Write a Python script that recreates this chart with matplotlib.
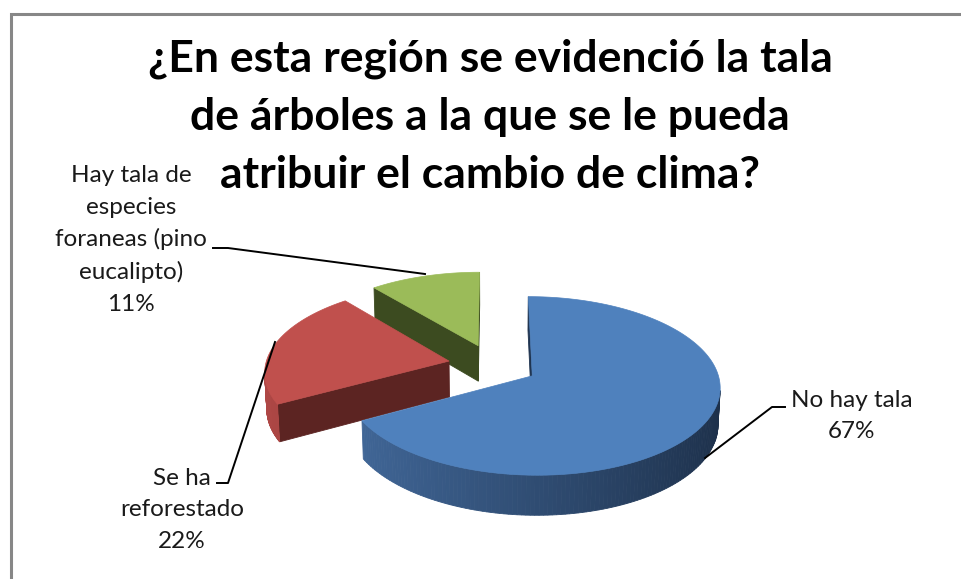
import numpy as np
import matplotlib.pyplot as plt
from matplotlib.patches import Polygon

# data
labels = ['No hay tala', 'Se ha\nreforestado', 'Hay tala de\nespecies\nforaneas (pino\neucalipto)']
values = [67, 22, 11]
title = '¿En esta región se evidenció la tala\nde árboles a la que se le pueda\natribuir el cambio de clima?'

top_colors = ['#4F81BD', '#C0504D', '#9BBB59']
cut_colors = ['#1F3450', '#5C2422', '#3C4B20']
wall_light = ['#42699B', '#B04846', '#7E9A48']
wall_dark = ['#1D304A', '#5A2321', '#3C4B20']

plt.rcParams['font.family'] = ['Lato', 'DejaVu Sans']

# 3d pie geometry (pixel space)
cx, cy = 493, 365
Rx, Rv = 193, 221
elev = 0.42
se, ce = np.sin(elev), np.cos(elev)
D = 7.8
d0 = -0.4
H = 0.19
explode = 0.245


def proj(u, v, w):
    depth = v * ce - w * se
    f = D / (D + depth - d0)
    return cx + Rx * u * f, cy - Rv * (v * se + w * ce) * f


def depth_of(u, v, w):
    return v * ce - w * se


cam = (D - d0) * np.array([0.0, -ce, se])


def visible(normal, p):
    return np.dot(normal, cam - np.array(p)) > 0


def mix(c1, c2, t):
    a = np.array(plt.matplotlib.colors.to_rgb(c1))
    b = np.array(plt.matplotlib.colors.to_rgb(c2))
    return tuple(a + (b - a) * t)


fig = plt.figure(figsize=(9.62, 5.79), dpi=100)
ax = fig.add_axes([0, 0, 1, 1])
ax.set_xlim(0, 962)
ax.set_ylim(579, 0)
ax.axis('off')

fracs = np.array(values) / sum(values)
starts = np.concatenate([[0], np.cumsum(fracs)[:-1]]) * 360
ends = np.cumsum(fracs) * 360

slices = []
for i in range(len(values)):
    a1, a2 = starts[i], ends[i]
    mid = np.deg2rad((a1 + a2) / 2)
    ou, ov = explode * np.sin(mid), explode * np.cos(mid)
    slices.append((i, a1, a2, ou, ov, depth_of(ou, ov, 0)))

# back to front
slices.sort(key=lambda s: -s[5])

for i, a1, a2, ou, ov, _ in slices:
    angs = np.deg2rad(np.linspace(a1, a2, 200))
    faces = []
    # outer wall
    for k in range(len(angs) - 1):
        t0, t1 = angs[k], angs[k + 1]
        tm = (t0 + t1) / 2
        n = np.array([np.sin(tm), np.cos(tm), 0])
        p = [ou + np.sin(tm), ov + np.cos(tm), -H / 2]
        if not visible(n, p):
            continue
        pts = [proj(ou + np.sin(t0), ov + np.cos(t0), 0),
               proj(ou + np.sin(t1), ov + np.cos(t1), 0),
               proj(ou + np.sin(t1), ov + np.cos(t1), -H),
               proj(ou + np.sin(t0), ov + np.cos(t0), -H)]
        # shade: lighter toward the left
        t = np.clip((np.sin(tm) + 1) / 2, 0, 1)
        faces.append((depth_of(*p), pts, mix(wall_light[i], wall_dark[i], t)))
    # cut faces
    for a, sgn in ((np.deg2rad(a1), -1), (np.deg2rad(a2), 1)):
        n = sgn * np.array([np.cos(a), -np.sin(a), 0])
        p = [ou + np.sin(a) / 2, ov + np.cos(a) / 2, -H / 2]
        if not visible(n, p):
            continue
        pts = [proj(ou, ov, 0), proj(ou + np.sin(a), ov + np.cos(a), 0),
               proj(ou + np.sin(a), ov + np.cos(a), -H), proj(ou, ov, -H)]
        faces.append((depth_of(*p), pts, cut_colors[i]))
    faces.sort(key=lambda f: -f[0])
    for _, pts, col in faces:
        ax.add_patch(Polygon(pts, closed=True, facecolor=col, edgecolor=col, lw=0.6))
    top = [proj(ou, ov, 0)] + [proj(ou + np.sin(t), ov + np.cos(t), 0) for t in angs]
    ax.add_patch(Polygon(top, closed=True, facecolor=top_colors[i], edgecolor=top_colors[i], lw=0.5))

# title
ax.text(490, 117, title, ha='center', va='center', fontsize=32, fontweight='bold',
        linespacing=1.55, color='black')

# data labels with leader lines
pct = ['%d%%' % v for v in values]
lab_pos = [(852, 416), (182, 510), (131, 240)]
leaders = [[(785, 407), (772, 407), (705, 458)],
           [(217, 483), (228, 483), (275, 342)],
           [(213, 248), (228, 248), (425, 274)]]
for i in range(len(values)):
    ax.text(lab_pos[i][0], lab_pos[i][1], labels[i] + '\n' + pct[i], ha='center', va='center',
            fontsize=17.5, linespacing=1.6, color='#1a1a1a')
    xs, ys = zip(*leaders[i])
    ax.plot(xs, ys, color='black', lw=1.4)

# chart border
ax.plot([11, 11, 962], [579, 14, 14], color='#878787', lw=2.2, solid_joinstyle='miter')

fig.savefig('out.png', dpi=100)
